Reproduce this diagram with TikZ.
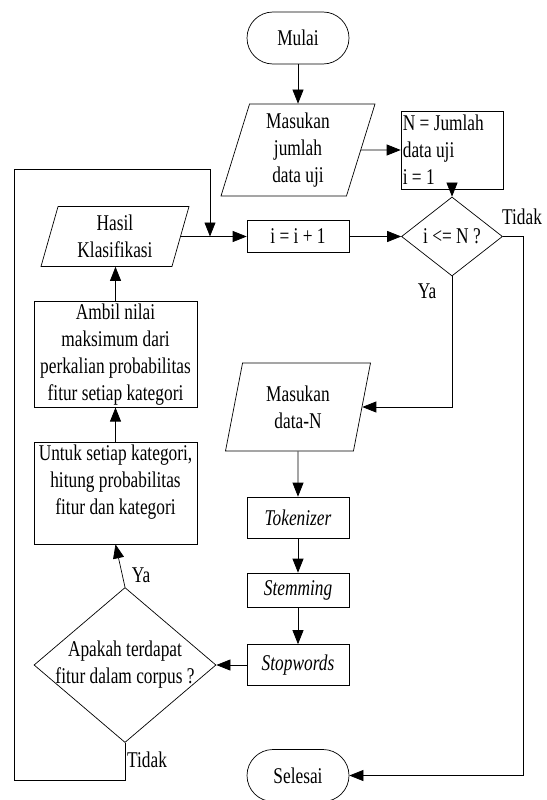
\documentclass[tikz,border=0pt]{standalone}
\usepackage{fontspec}
\setmainfont[FakeStretch=0.77]{Liberation Serif}
\usetikzlibrary{shapes.geometric,arrows.meta}

\tikzset{
  txt/.style={font=\fontsize{22.5}{27}\selectfont},
  base/.style={draw, line width=0.7pt, txt, align=center, inner sep=2pt},
  term/.style={base, minimum width=102pt, minimum height=52pt, rounded corners=26pt},
  proc/.style={base, minimum width=102pt},
  io/.style={base, trapezium, trapezium left angle=70, trapezium right angle=110,
    trapezium stretches body},
  dec/.style={base, diamond, inner sep=0pt},
  arr/.style={line width=0.7pt, -{Triangle[length=14pt,width=11pt]}}
}

\begin{document}
\begin{tikzpicture}[x=1pt,y=-1pt]
    \useasboundingbox (0,0) rectangle (546,800);

    % draw nodes
    \node[term] (mulai) at (298,38) {Mulai};
    \node[io, minimum width=154pt, minimum height=92pt] (masuk) at (298,150) {Masukan\\jumlah\\data uji};
    \node[proc, minimum height=78pt] (nbox) at (452,150) {};
    \node[txt, anchor=west, align=flush left, inner sep=2pt] (ntext) at (nbox.west) {N = Jumlah\\data uji\\i = 1};
    \node[dec, minimum width=101pt, minimum height=79pt] (cek) at (452,236.5) {i <= N ?};
    \node[proc, minimum height=32pt] (inc) at (298,236.5) {i = i + 1};
    \node[io, minimum width=148pt, minimum height=60pt] (hasil) at (115,236.5) {Hasil\\Klasifikasi};
    \node[proc, minimum width=163pt, minimum height=105pt] (ambil) at (115.5,354.5) {Ambil nilai\\maksimum dari\\perkalian probabilitas\\fitur setiap kategori};
    \node[proc, minimum width=163pt, minimum height=102pt] (untuk) at (115.5,493) {Untuk setiap kategori,\\hitung probabilitas\\fitur dan kategori\\ \mbox{}};
    \node[io, minimum width=145pt, minimum height=88pt] (datan) at (298,407) {Masukan\\data-N};
    \node[proc, minimum height=41pt] (tok) at (298,517.5) {\textit{Tokenizer}};
    \node[proc, minimum height=34pt] (stem) at (298,590) {\textit{Stemming}};
    \node[proc, minimum height=41pt] (stop) at (298,665) {\textit{Stopwords}};
    \node[dec, minimum width=182pt, minimum height=155pt,
      label={[txt, align=center]center:Apakah terdapat\\fitur dalam corpus ?}] (fitur) at (125,665) {};
    \node[term] (selesai) at (298,775.5) {Selesai};

    % draw labels
    \node[txt] (tidak1) at (522,217) {Tidak};
    \node[txt] (ya1) at (427,291) {Ya};
    \node[txt] (ya2) at (141,575) {Ya};
    \node[txt] (tidak2) at (147,760) {Tidak};

    % corner points
    \coordinate (rt) at (523,236.5);
    \coordinate (lpbot) at (14,780);
    \coordinate (lptop) at (14,169);
    \coordinate (join) at (210,236.5);

    % draw arrows
    \draw[arr] (mulai) -- (masuk);
    \draw[arr] (masuk) -- (nbox);
    \draw[arr] (nbox) -- (cek);
    \draw[arr] (inc) -- (cek);
    \draw[arr] (cek.east) -- (rt) |- (selesai);
    \draw[arr] (cek.south) |- (datan);
    \draw[arr] (datan) -- (tok);
    \draw[arr] (tok) -- (stem);
    \draw[arr] (stem) -- (stop);
    \draw[arr] (stop) -- (fitur);
    \draw[arr] (fitur.north) -- (untuk.south);
    \draw[arr] (untuk) -- (ambil);
    \draw[arr] (ambil) -- (ambil |- hasil.south);
    \draw[arr] (hasil) -- (inc);
    \draw[arr] (fitur.south) |- (lpbot) -- (lptop) -| (join);
\end{tikzpicture}
\end{document}
